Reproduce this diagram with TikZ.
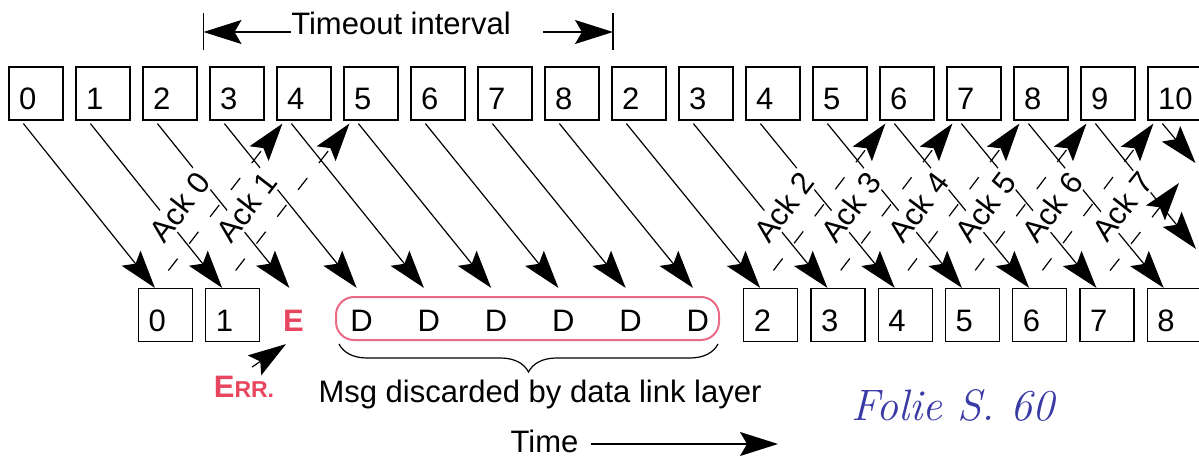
\documentclass[tikz,border=0pt]{standalone}
\usepackage{fontspec}
\newfontfamily\labelfont{Liberation Sans}
\usetikzlibrary{arrows.meta,positioning,calc,decorations.pathreplacing}
\definecolor{errred}{HTML}{E8455E}
\definecolor{discpink}{HTML}{EA6A86}
\definecolor{pen}{HTML}{3A3AA6}

\begin{document}
\begin{tikzpicture}[x=0.5pt,y=-0.5pt,
  font=\labelfont\fontsize{15.5}{18}\selectfont,
  line width=0.6pt,
  slot/.style={minimum width=27pt,minimum height=26.5pt,inner xsep=5pt,
    inner ysep=0pt,text width=17pt,align=left,text height=16pt,text depth=0pt},
  box/.style={slot,draw},
  tip/.style={-{Stealth[length=19pt,width=12pt,inset=3.5pt]}},
  ack/.style={tip,dash pattern=on 7.5pt off 9.5pt,shorten <=11pt},
  acklbl/.style={sloped,above=8pt,pos=0.38,fill=white,inner sep=1pt}]
\fill[white] (0,0) rectangle (1199,460);
\useasboundingbox (0,0) rectangle (1199,460);

% sender row
\foreach \lab [count=\i from 0] in {0,1,2,3,4,5,6,7,8,2,3,4,5,6,7,8,9,10}
  \node[box] (t\i) at ({36+67*\i},93.5) {\lab};

% receiver row
\foreach \lab [count=\i from 0] in {0,1}
  \node[box] (b\i) at ({165.5+67.25*\i},315) {\lab};
\node[slot,text=errred] (b2) at ({165.5+67.25*2},315) {\bfseries E};
\foreach \i in {3,...,8}
  \node[slot] (b\i) at ({165.5+67.25*\i},315) {D};
\foreach \lab [count=\i from 9] in {2,...,8}
  \node[box] (b\i) at ({165.5+67.25*\i},315) {\lab};

% frames
\foreach \i in {0,...,15}
  \draw[tip] ([xshift=7.5pt,yshift=-1.5pt]t\i.south west) -- ([xshift=8.5pt]b\i.north west);
\coordinate (cut9) at (1196,249);
\coordinate (cut10) at (1195.5,163);
\draw[tip] ([xshift=7.5pt,yshift=-1.5pt]t16.south west) -- (cut9);
\draw[tip] ([xshift=7.5pt,yshift=-1.5pt]t17.south west) -- (cut10);

% acks
\foreach \k/\m/\n in {0/4/0,1/5/1,9/13/2,10/14/3,11/15/4,12/16/5,13/17/6}
  \draw[ack] ([xshift=8.5pt]b\k.north west) -- ([xshift=3pt,yshift=-1.5pt]t\m.south west)
    node[acklbl] {Ack \n};
\coordinate (cut7) at (1179,183);
\draw[ack] ([xshift=8.5pt]b14.north west) -- (cut7) node[acklbl,pos=0.6] {Ack 7};

% timeout
\node[anchor=base,inner sep=0pt] (tmo) at (401,35) {Timeout interval};
\coordinate (tL) at (203.5,32);
\coordinate (tR) at (613,32);
\draw ([yshift=9.25pt]tL) -- ([yshift=-9.25pt]tL);
\draw ([yshift=9.25pt]tR) -- ([yshift=-9.25pt]tR);
\draw[tip] (tmo.west |- tL) -- (tL);
\draw[tip,shorten <=16pt] (tmo.east |- tR) -- (tR);

% error and discarded frames
\node[text=errred] (err) at (244,387) {\bfseries E{\fontsize{11.5}{13}\selectfont RR.}};
\draw[tip] ([xshift=4pt,yshift=1pt]err.north) -- ([xshift=-7pt,yshift=-1pt]b2.south);
\node[draw=discpink,line width=1pt,rounded corners=9pt,minimum width=191.5pt,
  minimum height=21.5pt] (disc) at (527.5,318.5) {};
\draw[decorate,decoration={brace,amplitude=14pt}]
  ([xshift=-1pt,yshift=-1.5pt]disc.south east) -- ([xshift=2pt,yshift=-1.5pt]disc.south west);
\node[anchor=base] (msg) at (540,402) {Msg discarded by data link layer};

% time axis
\node[anchor=base west,inner sep=0pt] (time) at (510,452) {Time};
\coordinate (tEnd) at (778,444);
\draw[tip,shorten <=6pt] (time.east |- tEnd) -- (tEnd);

\node[text=pen,font=\fontsize{22}{26}\selectfont\itshape] (folie) at (953,405) {Folie S. 60};
\end{tikzpicture}
\end{document}
